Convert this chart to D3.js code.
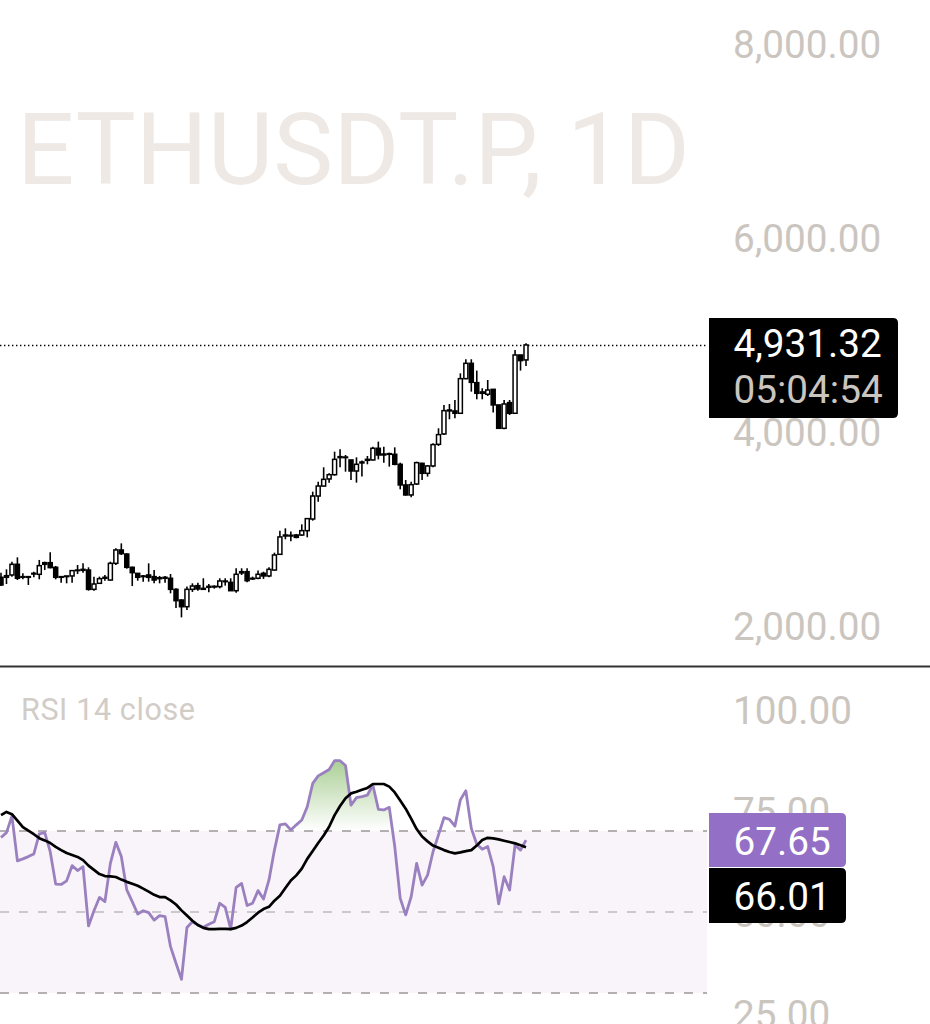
<!DOCTYPE html>
<html>
<head>
<meta charset="utf-8">
<script src="https://cdn.jsdelivr.net/npm/d3@7"></script>
<style>
  html, body { margin: 0; padding: 0; background: #fff; }
  svg { display: block; font-family: Roboto, sans-serif; }
</style>
</head>
<body>
<svg id="chart" width="930" height="1024"></svg>
<script>
const title = "ETHUSDT.P, 1D";
const rsiTitle = "RSI 14 close";
const priceTicks = [2000, 4000, 6000, 8000];
const rsiTicks = [25, 50, 75, 100];
const rsiLevels = [25, 50, 75];
const lastPrice = 4931.32;
const countdown = "05:04:54";
const rsiLast = 67.65;
const rsiMaLast = 66.01;

const opens = [2536,2553,2560,2670,2543,2536,2570,2567,2687,2687,2639,2543,2550,2550,2605,2618,2611,2412,2474,2526,2508,2680,2818,2776,2639,2577,2550,2560,2543,2532,2536,2526,2412,2302,2233,2412,2450,2422,2443,2443,2440,2498,2484,2398,2594,2594,2526,2526,2577,2550,2611,
  2773,2972,2969,2972,2972,3017,3137,3374,3477,3550,3594,3780,3776,3746,3632,3725,3752,3746,3866,3807,3811,3804,3701,3488,3385,3498,3711,3608,3684,3907,4014,4261,4251,4227,4584,4742,4543,4447,4423,4474,4313,4072,4337,4227,4828,4777];
const closes = [2457,2536,2670,2526,2536,2543,2577,2656,2670,2636,2536,2536,2543,2605,2611,2608,2412,2467,2522,2536,2680,2818,2780,2639,2584,2536,2543,2536,2508,2522,2526,2412,2295,2233,2412,2446,2416,2412,2433,2436,2498,2491,2398,2567,2581,2501,2519,2567,2550,2618,2766,
  2952,2962,2962,2948,3017,3141,3374,3477,3546,3594,3752,3770,3770,3632,3701,3715,3742,3866,3797,3797,3804,3701,3488,3385,3491,3718,3608,3684,3904,4007,4254,4251,4227,4584,4742,4546,4433,4433,4467,4313,4072,4323,4227,4828,4770,4931.32];
const highs = [2584,2618,2697,2742,2577,2550,2594,2715,2697,2794,2653,2550,2550,2611,2663,2680,2639,2543,2543,2560,2697,2835,2886,2783,2646,2577,2560,2680,2611,2550,2550,2570,2422,2309,2440,2474,2481,2526,2467,2453,2526,2526,2526,2629,2629,2629,2543,2605,2594,2639,2790,
  3017,3041,3007,2983,3082,3144,3419,3522,3670,3608,3831,3856,3797,3746,3773,3739,3787,3883,3935,3883,3821,3876,3718,3539,3522,3728,3718,3694,3917,4072,4313,4323,4364,4639,4784,4784,4667,4485,4570,4474,4313,4364,4364,4880,4828,4950];
const lows = [2446,2467,2543,2508,2515,2457,2536,2515,2611,2629,2515,2481,2474,2481,2570,2584,2398,2398,2467,2501,2501,2663,2766,2625,2446,2501,2491,2491,2474,2474,2481,2371,2220,2123,2199,2385,2398,2405,2381,2419,2422,2450,2398,2378,2560,2484,2508,2515,2519,2536,2605,
  2766,2928,2907,2938,2962,2948,3120,3316,3471,3512,3584,3670,3625,3539,3512,3574,3701,3739,3752,3718,3677,3691,3443,3378,3361,3488,3539,3574,3670,3890,4003,4165,4175,4227,4577,4450,4371,4371,4405,4234,4072,4062,4210,4220,4667,4715];

const rsiValues = [73.0,74.5,79.6,65.8,66.4,67.1,67.9,74.1,74.5,68.6,58.6,58.5,59.6,64.3,62.8,64.0,45.7,50.4,54.5,53.2,65.0,71.5,67.1,56.8,53.2,49.4,50.4,49.8,47.5,48.9,48.6,39.3,34.2,29.2,45.2,47.0,46.0,45.3,46.2,47.0,52.7,51.4,44.7,57.6,58.8,52.0,52.7,56.6,54.0,59.9,
  69.1,76.9,77.2,75.3,76.9,78.4,82.5,89.7,92.0,93.0,94.0,96.7,96.7,95.2,83.0,85.3,85.6,86.1,89.2,81.7,81.5,82.3,70.2,54.2,49.1,54.7,65.0,58.3,61.4,68.6,73.8,79.1,78.6,76.5,84.6,87.4,75.8,70.9,69.4,70.2,64.0,52.5,60.9,56.8,70.7,69.1,72.2];
const rsiMa = [79.9,80.9,80.2,78.2,76.2,75.1,74.0,72.8,72.1,71.3,70.1,69.1,68.2,67.6,67.0,66.0,64.3,63.0,61.7,61.1,61.0,60.8,60.0,59.3,58.7,58.1,57.2,56.3,55.3,54.6,54.6,53.6,52.3,50.5,48.9,47.3,46.0,45.1,44.7,44.7,44.8,44.8,44.7,45.1,45.8,46.9,48.3,49.8,50.9,51.6,
  53.5,55.0,57.4,59.7,61.3,63.4,66.4,68.8,71.3,73.6,76.3,79.9,82.7,85.1,86.6,87.1,87.7,88.3,89.5,89.5,89.5,88.7,86.9,84.4,81.9,78.8,75.6,73.3,71.8,70.5,69.8,69.1,68.5,68.1,68.4,68.8,69.1,70.5,72.2,72.9,72.7,72.4,72.0,71.6,71.2,70.6,70.0];

const candles = opens.map((o, i) => ({ i, o, h: highs[i], l: lows[i], c: closes[i] }));

const plotRight = 707;
const labelX = 733;
const textGrey = "#cbc5c0";
const labelSize = 38.7;

const svg = d3.select("#chart");
const defs = svg.append("defs");

const x = d3.scaleLinear().domain([0, candles.length - 1]).range([1, 526]);
const yPrice = d3.scaleLinear().domain([2000, 8000]).range([629.3, 47.3]);
const yRsi = d3.scaleLinear().domain([25, 75]).range([993, 831]);
// the pane's axis labels don't sit on the level lines in the screenshot
const yRsiLabels = d3.scaleLinear().domain([25, 100]).range([1015, 711]);

// watermark
svg.append("text")
  .attr("x", 17).attr("y", 184)
  .attr("font-size", 101)
  .attr("fill", "#eee9e5")
  .text(title);

// price axis labels
const priceAxis = d3.axisRight(yPrice)
  .tickValues(priceTicks)
  .tickFormat(d3.format(",.2f"))
  .tickSize(0).tickPadding(0);
const priceAxisG = svg.append("g").attr("transform", `translate(${labelX},0)`).call(priceAxis);

// rsi axis labels
const rsiAxis = d3.axisRight(yRsiLabels)
  .tickValues(rsiTicks)
  .tickFormat(d3.format(".2f"))
  .tickSize(0).tickPadding(0);
const rsiAxisG = svg.append("g").attr("transform", `translate(${labelX},0)`).call(rsiAxis);

[priceAxisG, rsiAxisG].forEach(g => {
  g.select(".domain").remove();
  g.selectAll("text")
    .attr("font-family", "Roboto, sans-serif")
    .attr("font-size", labelSize)
    .attr("fill", textGrey);
});
priceAxisG.selectAll("text").attr("dy", "0.26em");

// last price line
svg.append("line")
  .attr("x1", 0).attr("x2", plotRight)
  .attr("y1", yPrice(lastPrice) + 0.5).attr("y2", yPrice(lastPrice) + 0.5)
  .attr("stroke", "#000").attr("stroke-width", 1.5)
  .attr("stroke-dasharray", "1.4 2.6");

// candles
const candleG = svg.append("g").selectAll("g").data(candles).join("g");
candleG.append("line")
  .attr("x1", d => x(d.i)).attr("x2", d => x(d.i))
  .attr("y1", d => yPrice(d.h)).attr("y2", d => yPrice(d.l))
  .attr("stroke", "#000").attr("stroke-width", 1.6);
candleG.append("rect")
  .attr("x", d => x(d.i) - 2)
  .attr("width", 4)
  .attr("y", d => yPrice(Math.max(d.o, d.c)))
  .attr("height", d => Math.max(0.6, Math.abs(yPrice(d.o) - yPrice(d.c))))
  .attr("fill", d => d.c >= d.o ? "#fff" : "#000")
  .attr("stroke", "#000").attr("stroke-width", 1.5);

// pane separator
svg.append("line")
  .attr("x1", 0).attr("x2", 930).attr("y1", 666.5).attr("y2", 666.5)
  .attr("stroke", "#333").attr("stroke-width", 2);

svg.append("text")
  .attr("x", 21).attr("y", 719.5)
  .attr("font-size", 30.5)
  .attr("letter-spacing", 0.6)
  .attr("fill", "#d2ccc7")
  .text(rsiTitle);

// rsi band
svg.append("rect")
  .attr("x", 0).attr("width", plotRight)
  .attr("y", yRsi(75)).attr("height", yRsi(25) - yRsi(75))
  .attr("fill", "#f8f4f9");

// overbought fill above the 75 level, only the big bump shows green in the reference
const grad = defs.append("linearGradient")
  .attr("id", "obFill")
  .attr("gradientUnits", "userSpaceOnUse")
  .attr("x1", 0).attr("x2", 0)
  .attr("y1", yRsi(97)).attr("y2", yRsi(75));
grad.append("stop").attr("offset", 0).attr("stop-color", "#a5cc8f").attr("stop-opacity", 0.95);
grad.append("stop").attr("offset", 1).attr("stop-color", "#a5cc8f").attr("stop-opacity", 0);

defs.append("clipPath").attr("id", "obClip").append("rect")
  .attr("x", 250).attr("width", 150)
  .attr("y", 0).attr("height", yRsi(75));

svg.append("path")
  .datum(rsiValues)
  .attr("clip-path", "url(#obClip)")
  .attr("fill", "url(#obFill)")
  .attr("d", d3.area().x((d, i) => x(i)).y0(yRsi(75)).y1(d => yRsi(d)));

// level lines
svg.append("g").selectAll("line").data(rsiLevels).join("line")
  .attr("x1", 0).attr("x2", plotRight)
  .attr("y1", d => yRsi(d)).attr("y2", d => yRsi(d))
  .attr("stroke", d => d === 50 ? "#bfb9bd" : "#9d979b")
  .attr("stroke-width", 1.5)
  .attr("stroke-dasharray", "9 10");

const rsiLine = d3.line().x((d, i) => x(i)).y(d => yRsi(d));

svg.append("path")
  .attr("d", rsiLine(rsiValues))
  .attr("fill", "none")
  .attr("stroke", "#9a80bf").attr("stroke-width", 2.8)
  .attr("stroke-linejoin", "round");

svg.append("path")
  .attr("d", rsiLine(rsiMa))
  .attr("fill", "none")
  .attr("stroke", "#000").attr("stroke-width", 2.7)
  .attr("stroke-linejoin", "round");

// value tags, square on the axis side and rounded on the outside
function tag(left, top, right, bottom, color) {
  const r = 5;
  svg.append("path")
    .attr("fill", color)
    .attr("d", `M${left},${top}H${right - r}Q${right},${top} ${right},${top + r}V${bottom - r}Q${right},${bottom} ${right - r},${bottom}H${left}Z`);
}
function tagText(y, str, color) {
  svg.append("text")
    .attr("x", labelX + 0.5).attr("y", y)
    .attr("font-size", labelSize).attr("fill", color)
    .text(str);
}

tag(709, 318, 898, 418, "#000");
tagText(357, d3.format(",.2f")(lastPrice), "#fff");
tagText(403, countdown, textGrey);

tag(709, 813, 846, 867, "#9370c6");
tagText(855, d3.format(".2f")(rsiLast), "#fff");
tag(709, 868, 846, 923, "#000");
tagText(910, d3.format(".2f")(rsiMaLast), "#fff");
</script>
</body>
</html>
